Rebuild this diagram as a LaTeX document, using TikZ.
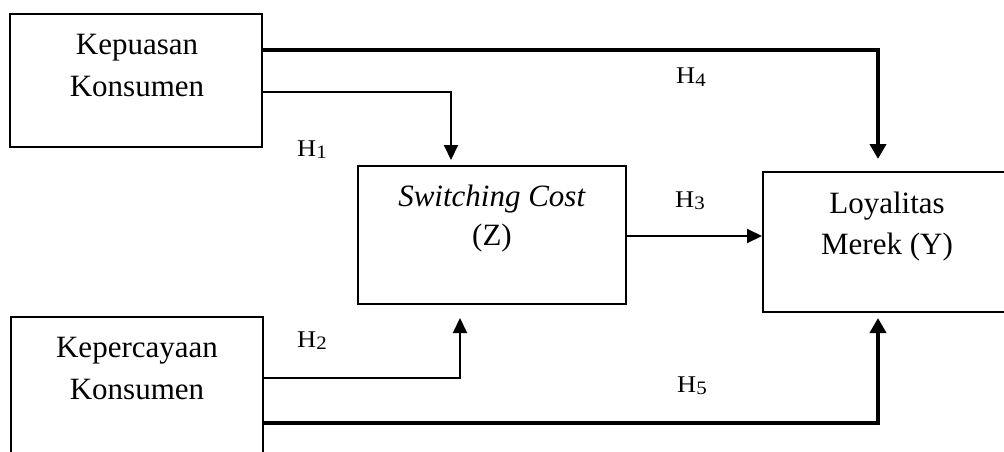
\documentclass[tikz,border=0pt]{standalone}
\usepackage{fontspec}
\setmainfont{Liberation Serif}
\newfontfamily\hfont{Liberation Serif}[FakeStretch=1.1]
\usetikzlibrary{arrows.meta}
\newcommand\hsub[1]{\raisebox{-2.5pt}{\fontsize{19}{19}\selectfont #1}}
\begin{document}
\begin{tikzpicture}[x=1pt,y=-1pt,
  box/.style={draw,line width=2pt,inner sep=0pt},
  txt/.style={anchor=base,inner sep=0pt,font=\fontsize{31}{36}\selectfont},
  lab/.style={anchor=base west,inner sep=0pt,font=\hfont\fontsize{24}{24}\selectfont},
  thinline/.style={line width=2pt,-{Triangle[length=15pt,width=14pt]}},
  thickline/.style={line width=4pt,-{Triangle[length=15pt,width=16pt]}}]
\useasboundingbox (0,0) rectangle (1004,452);
\clip (0,0) rectangle (1004,452);
% boxes
\node[box,minimum width=252pt,minimum height=133pt] (k1) at (136,80.5) {};
\node[box,minimum width=252pt,minimum height=160pt] (k2) at (137,397) {};
\node[box,minimum width=268pt,minimum height=138pt] (sw) at (492,235) {};
\node[box,minimum width=260pt,minimum height=140pt] (yl) at (893,242) {};
% box texts
\node[txt] (k1a) at (137,55) {Kepuasan};
\node[txt] (k1b) at (137,96) {Konsumen};
\node[txt] (k2a) at (137,357) {Kepercayaan};
\node[txt] (k2b) at (137,399) {Konsumen};
\node[txt] (swa) at (492,206) {\textit{Switching Cost}};
\node[txt] (swb) at (492,245) {(Z)};
\node[txt] (yla) at (887,213) {Loyalitas};
\node[txt] (ylb) at (887,254) {Merek (Y)};
% connectors
\draw[thickline,shorten >=12pt] (k1.east |- 0,50) -| (878,0 |- yl.north);
\draw[thinline,shorten >=5pt] (k1.east |- 0,92) -| (451,0 |- sw.north);
\draw[thinline] (sw.east |- 0,236) -- (yl.west |- 0,236);
\draw[thinline,shorten >=13pt] (k2.east |- 0,378) -| (460,0 |- sw.south);
\draw[thickline,shorten >=5pt] (k2.east |- 0,423) -| (878,0 |- yl.south);
% labels
\node[lab] (h1) at (297,156) {H\hsub{1}};
\node[lab] (h2) at (297,347) {H\hsub{2}};
\node[lab] (h3) at (675,207) {H\hsub{3}};
\node[lab] (h4) at (676,84) {H\hsub{4}};
\node[lab] (h5) at (677,392) {H\hsub{5}};
\end{tikzpicture}
\end{document}
